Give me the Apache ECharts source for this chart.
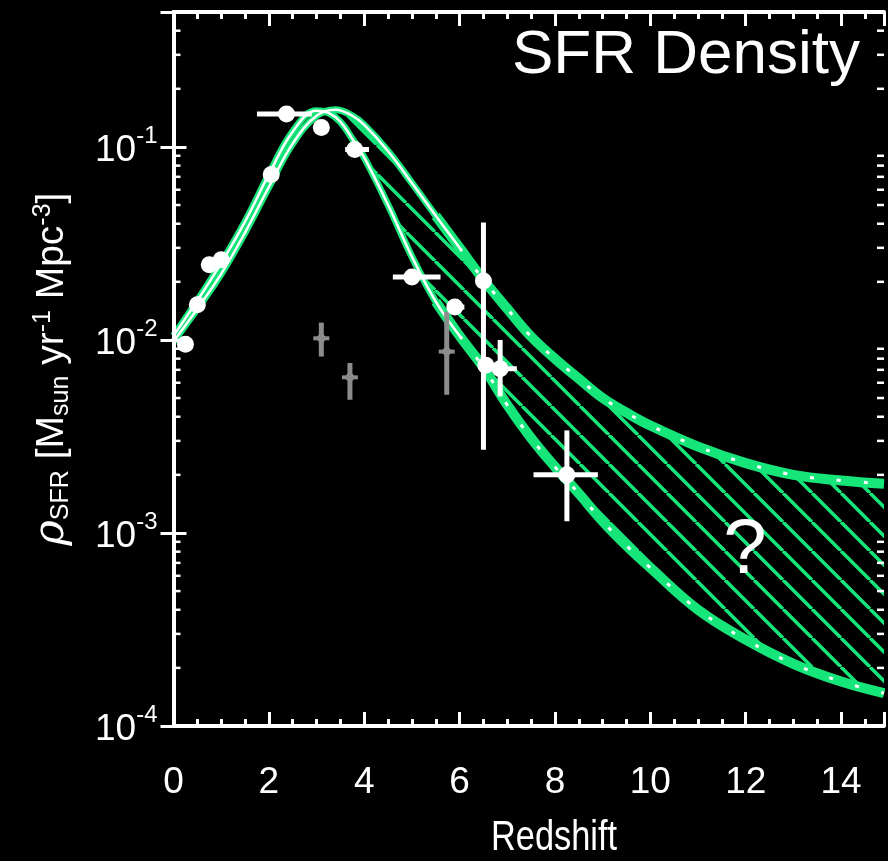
<!DOCTYPE html>
<html><head><meta charset="utf-8">
<script src="https://cdn.jsdelivr.net/npm/echarts@6/dist/echarts.min.js"></script>
<style>html,body{margin:0;padding:0;background:#000;overflow:hidden}#c{width:888px;height:861px}</style>
</head><body><div id="c"></div>
<script>
// ---- data ----
const lowerZ = [0,0.5,1,1.5,2,2.5,3,3.25,3.5,3.75,4,4.5,5,5.5,6,6.5,7,7.5,8,8.5,9,9.5,10,11,12,13,14,14.9];
const lowerV = [0.0105,0.016,0.025,0.041,0.072,0.12,0.154,0.15,0.135,0.11,0.088,0.05,0.027,0.0158,0.0105,0.0072,0.0046,0.0031,0.0022,0.0016,0.00115,0.00086,0.00066,0.0004,0.00028,0.00021,0.00017,0.000148];
const upperZ = [0,0.5,1,1.5,2,2.5,3,3.4,3.75,4,4.5,5,5.5,6,6.5,7,7.5,8,8.5,9,9.5,10,11,12,13,14,14.9];
const upperV = [0.0098,0.0145,0.022,0.036,0.062,0.104,0.145,0.156,0.145,0.13,0.095,0.065,0.044,0.030,0.0205,0.0145,0.0104,0.008,0.0063,0.005,0.0042,0.0036,0.0028,0.0023,0.002,0.00187,0.0018];
const splitZ = 6;

const whiteZ   = [0.25,0.5,0.75,1.0,2.05,2.37,3.1,3.8,5.0,5.9,6.5,6.55,6.85,8.25];
const whiteV   = [0.0095,0.0152,0.0245,0.026,0.072,0.148,0.126,0.097,0.0212,0.0148,0.0202,0.0074,0.0071,0.0020];
const whiteXlo = [0.1,null,null,null,null,1.75,3.0,3.6,4.6,5.75,6.35,null,6.5,7.55];
const whiteXhi = [0.4,null,null,null,null,2.9,3.2,4.1,5.6,6.1,6.65,null,7.2,8.9];
const whiteYlo = [0.0087,null,null,null,null,0.14,0.118,0.092,0.0198,0.0138,0.0027,null,0.0051,0.00115];
const whiteYhi = [0.0104,null,null,null,null,0.162,0.134,0.104,0.0228,0.016,0.0406,null,0.0100,0.0034];

const grayZ   = [3.1,3.7,5.73];
const grayV   = [0.0102,0.0064,0.0087];
const grayYlo = [0.0082,0.0049,0.0052];
const grayYhi = [0.0123,0.0076,0.014];

const xTickLabels = ['0','2','4','6','8','10','12','14'];
const yTickExps = [-4,-3,-2,-1];
const X_MIN = 0, X_MAX = 14.9, Y_MIN = 1e-4, Y_MAX = 0.5;

const GREEN = '#16e57a';
const FONT = '"Liberation Sans", Arial, Helvetica, sans-serif';

function pts(zs, vs, f) { const o=[]; zs.forEach((z,i)=>{ if(!f || f(z)) o.push([z, vs[i]]); }); return o; }

function hatch() {
  const T = 29, c = document.createElement('canvas');
  c.width = T; c.height = T;
  const g = c.getContext('2d');
  g.strokeStyle = GREEN; g.lineWidth = 3.5; g.beginPath();
  for (let k = -1; k <= 1; k++) { g.moveTo(k*T, 0); g.lineTo(k*T + T, T); }
  g.stroke();
  return c;
}

const minorY = [];
[-4,-3,-2,-1].forEach(e => { for (let m = 2; m <= 9; m++) { const v = m*Math.pow(10,e); if (v < Y_MAX) minorY.push([v]); } });

const chart = echarts.init(document.getElementById('c'), null, {renderer:'canvas'});

const axisLine = {show:true, lineStyle:{color:'#fff', width:4}};
const xTick = {show:true, inside:true, length:14, lineStyle:{color:'#fff', width:3}};
const xMinor = {show:true, splitNumber:4, length:7, lineStyle:{color:'#fff', width:3}};

const option = {
  backgroundColor: '#000',
  animation: false,
  grid: {left: 173.5, top: 12, right: 4, bottom: 135, containLabel:false, outerBoundsMode:'none'},
  xAxis: [{
    type:'value', min:X_MIN, max:X_MAX, interval:2, position:'bottom', z:8,
    axisLine, axisTick:xTick, minorTick:xMinor, splitLine:{show:false},
    axisLabel:{color:'#fff', fontSize:37, fontFamily:FONT, margin:38,
      formatter: v => (Math.abs(v/2 - Math.round(v/2)) < 1e-6 ? xTickLabels[Math.round(v/2)] : '')}
  },{
    type:'value', min:X_MIN, max:X_MAX, interval:2, position:'top', z:8,
    axisLine, axisTick:xTick, minorTick:xMinor, splitLine:{show:false}, axisLabel:{show:false}
  }],
  yAxis: [{
    type:'log', min:Y_MIN, max:Y_MAX, logBase:10, position:'left', z:8,
    axisLine, axisTick:{show:true, inside:true, length:13, lineStyle:{color:'#fff', width:3}},
    splitLine:{show:false},
    axisLabel:{color:'#fff', margin:16, fontFamily:FONT,
      formatter: v => { const e = Math.log10(v); const r = Math.round(e);
        if (Math.abs(e-r) > 1e-6 || yTickExps.indexOf(r) < 0) return '';
        return '{b|10}{s|' + r + '}'; },
      rich:{ b:{color:'#fff', fontSize:37, fontFamily:FONT, padding:[8,0,0,0]}, s:{color:'#fff', fontSize:24, fontFamily:FONT, verticalAlign:'top'} }
    },
    name:'{rho|ρ}{sub|SFR}{m| [M}{sub|sun}{m| yr}{sup|-1}{m| Mpc}{sup|-3}{m|]}',
    nameLocation:'middle', nameRotate:90, nameGap:100, nameMoveOverlap:false,
    nameTextStyle:{color:'#fff', fontSize:39, fontFamily:FONT,
      rich:{ rho:{color:'#fff', fontSize:43, fontStyle:'italic', fontFamily:'"DejaVu Serif", serif'},
             m:{color:'#fff', fontSize:39, fontFamily:FONT},
             sub:{color:'#fff', fontSize:25, fontFamily:FONT, verticalAlign:'bottom'},
             sup:{color:'#fff', fontSize:25, fontFamily:FONT, verticalAlign:'top'} }}
  },{
    type:'log', min:Y_MIN, max:Y_MAX, logBase:10, position:'right', z:8,
    axisLine, axisTick:{show:true, inside:true, length:13, lineStyle:{color:'#fff', width:3}},
    splitLine:{show:false}, axisLabel:{show:false}
  }],
  graphic: [
    {type:'text', x:512, y:56, z:20,
     style:{text:'SFR Density', fill:'#fff', fontSize:62, fontFamily:FONT, textAlign:'left', textVerticalAlign:'middle'}},
    {type:'text', x:745, y:551, z:20,
     style:{text:'?', fill:'#fff', fontSize:78, fontFamily:FONT, textAlign:'center', textVerticalAlign:'middle'}},
    {type:'text', x:554, y:838, scaleX:0.8, z:20,
     style:{text:'Redshift', fill:'#fff', fontSize:43, fontFamily:FONT, textAlign:'center', textVerticalAlign:'middle'}}
  ],
  series: [
    {type:'line', data:pts(upperZ, upperV), smooth:0.4, symbol:'none', silent:true, z:1,
     lineStyle:{width:0, opacity:0}, areaStyle:{color:{image:hatch(), repeat:'repeat'}, origin:'start', opacity:1}},
    {type:'line', data:pts(lowerZ, lowerV), smooth:0.4, symbol:'none', silent:true, z:2,
     lineStyle:{width:0, opacity:0}, areaStyle:{color:'#000', origin:'start', opacity:1}},
    {type:'line', data:pts(lowerZ, lowerV), smooth:0.4, symbol:'none', z:3, lineStyle:{color:GREEN, width:7}},
    {type:'line', data:pts(upperZ, upperV), smooth:0.4, symbol:'none', z:3, lineStyle:{color:GREEN, width:7}},
    {type:'line', data:pts(lowerZ, lowerV, z=>z>=splitZ-0.5), smooth:0.4, symbol:'none', z:3, lineStyle:{color:GREEN, width:10}},
    {type:'line', data:pts(upperZ, upperV, z=>z>=splitZ-0.5), smooth:0.4, symbol:'none', z:3, lineStyle:{color:GREEN, width:10}},
    {type:'line', data:pts(lowerZ, lowerV, z=>z<=splitZ), smooth:0.4, symbol:'none', z:4, lineStyle:{color:'#fff', width:2.5}},
    {type:'line', data:pts(upperZ, upperV, z=>z<=splitZ), smooth:0.4, symbol:'none', z:4, lineStyle:{color:'#fff', width:2.5}},
    {type:'line', data:pts(lowerZ, lowerV, z=>z>=splitZ), smooth:0.4, symbol:'none', z:4, lineStyle:{color:'#fff', width:3, type:[4,23]}},
    {type:'line', data:pts(upperZ, upperV, z=>z>=splitZ), smooth:0.4, symbol:'none', z:4, lineStyle:{color:'#fff', width:3, type:[4,23]}},
    {type:'custom', z:5, silent:true,
     data: whiteZ.map((z,i)=>[z, whiteV[i], whiteXlo[i], whiteXhi[i], whiteYlo[i], whiteYhi[i]]),
     renderItem:(params, api) => {
       const i = params.dataIndex, ch = [];
       const z = whiteZ[i], v = whiteV[i];
       const st = {stroke:'#fff', lineWidth:5};
       if (whiteXlo[i] != null) { const a = api.coord([whiteXlo[i], v]), b = api.coord([whiteXhi[i], v]);
         ch.push({type:'line', shape:{x1:a[0], y1:a[1], x2:b[0], y2:b[1]}, style:st}); }
       if (whiteYlo[i] != null) { const a = api.coord([z, whiteYlo[i]]), b = api.coord([z, whiteYhi[i]]);
         ch.push({type:'line', shape:{x1:a[0], y1:a[1], x2:b[0], y2:b[1]}, style:st}); }
       return {type:'group', children:ch};
     }},
    {type:'scatter', z:6, silent:true, data:pts(whiteZ, whiteV), symbol:'circle', symbolSize:17, itemStyle:{color:'#fff', opacity:1}},
    {type:'custom', z:5, silent:true,
     data: grayZ.map((z,i)=>[z, grayV[i], grayYlo[i], grayYhi[i]]),
     renderItem:(params, api) => {
       const i = params.dataIndex;
       const a = api.coord([grayZ[i], grayYlo[i]]), b = api.coord([grayZ[i], grayYhi[i]]), c = api.coord([grayZ[i], grayV[i]]);
       const st = {stroke:'#8c8c8c', lineWidth:5};
       return {type:'group', children:[
         {type:'line', shape:{x1:a[0], y1:a[1], x2:b[0], y2:b[1]}, style:st},
         {type:'line', shape:{x1:c[0]-8, y1:c[1], x2:c[0]+8, y2:c[1]}, style:{stroke:'#8c8c8c', lineWidth:4}}
       ]};
     }},
    {type:'scatter', z:6, silent:true, data:pts(grayZ, grayV), symbol:'diamond', symbolSize:[11,13], itemStyle:{color:'#8c8c8c', opacity:1}},
    {type:'custom', z:7, silent:true, data:minorY,
     renderItem:(params, api) => {
       const v = api.value(0);
       const p = api.coord([X_MIN, v]), q = api.coord([X_MAX, v]);
       const st = {stroke:'#fff', lineWidth:2.5};
       return {type:'group', children:[
         {type:'line', shape:{x1:p[0], y1:p[1], x2:p[0]+7, y2:p[1]}, style:st},
         {type:'line', shape:{x1:q[0]-7, y1:q[1], x2:q[0], y2:q[1]}, style:st}
       ]};
     }, encode:{y:0}}
  ]
};
chart.setOption(option);
</script></body></html>
